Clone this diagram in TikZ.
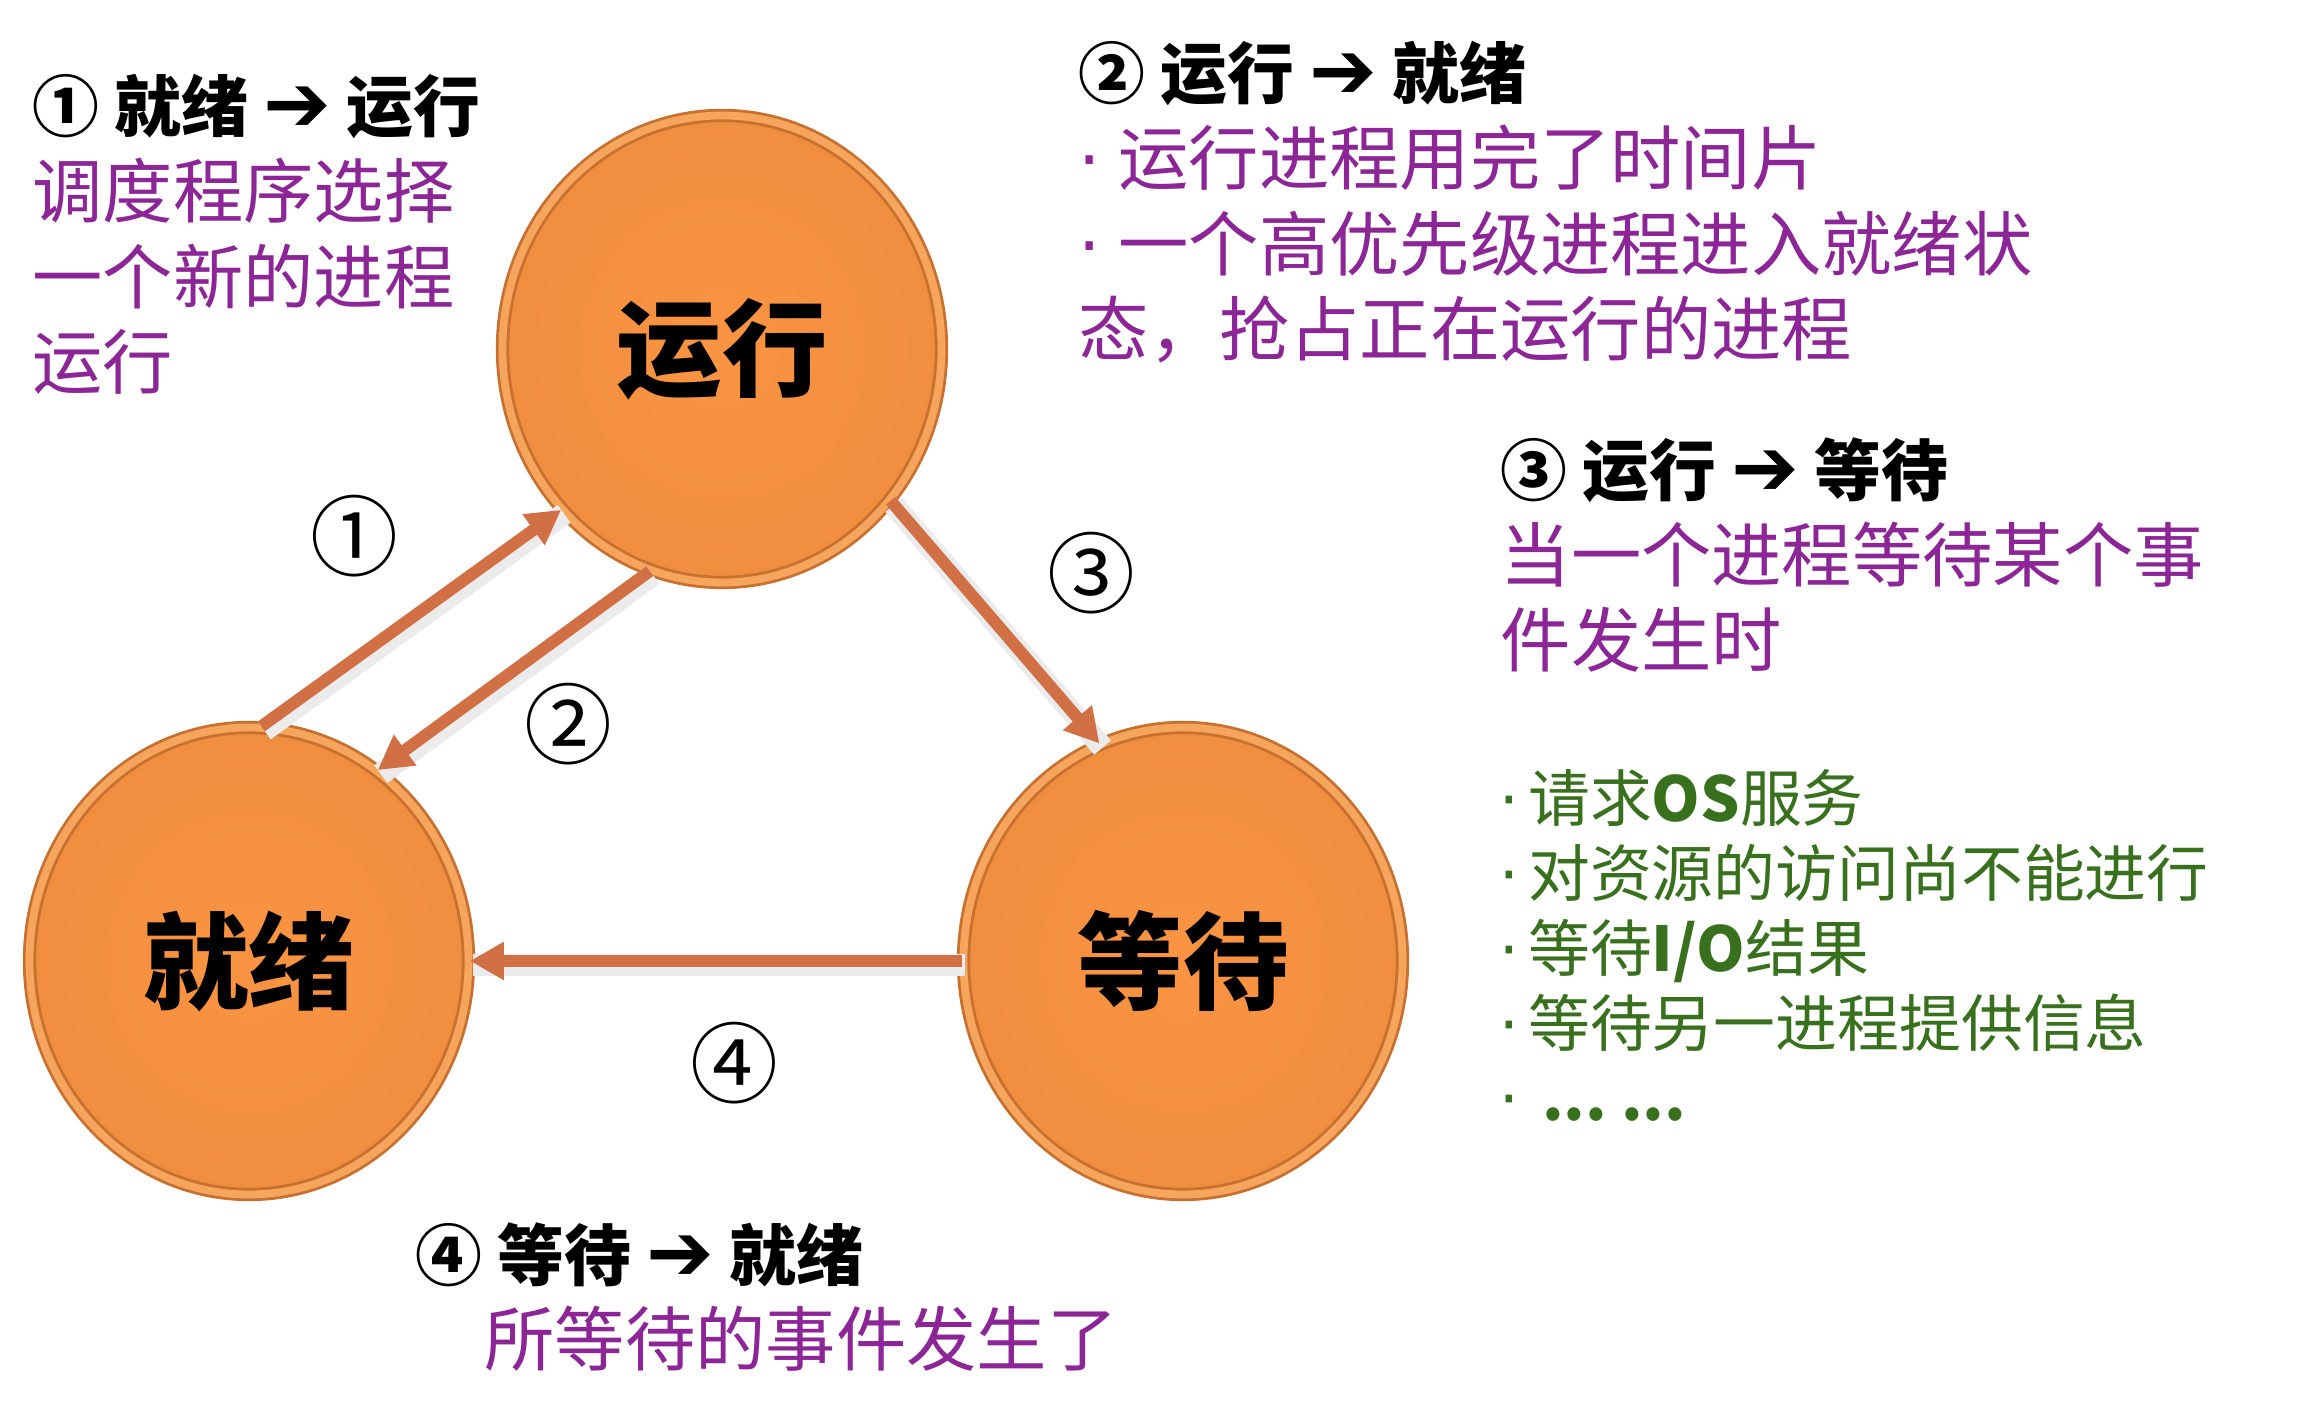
\documentclass[tikz,border=0pt]{standalone}
\usepackage{fontspec}
\usetikzlibrary{shapes.geometric, arrows.meta, positioning}
\newfontfamily\cjk{Noto Sans CJK SC}
\newfontfamily\symfont{DejaVu Sans}
\definecolor{ballfill}{RGB}{250,148,66}
\definecolor{balledge}{RGB}{200,112,48}
\definecolor{ballring}{RGB}{246,166,92}
\definecolor{flowarrow}{RGB}{209,112,69}
\definecolor{notepurple}{RGB}{140,38,150}
\definecolor{notegreen}{RGB}{56,112,30}
\newcommand{\stephead}[3]{{\color{black}\bfseries\fontsize{19pt}{24.45pt}\selectfont #1 #2 {\symfont\fontsize{23pt}{24pt}\selectfont ➔} #3}}
\newcommand{\bul}[1]{{\symfont ·}\kern#1}

\begin{document}
\begin{tikzpicture}[
        state/.style={ellipse, minimum width=4.39cm, minimum height=4.67cm, inner sep=0pt,
            inner color=ballfill, outer color=ballfill!96!black,
            draw=balledge, line width=0.8pt, double=ballring, double distance=2.2pt,
            font=\cjk\bfseries\fontsize{30pt}{36pt}\selectfont},
        flow/.style={-{Triangle[length=0.34cm, width=0.36cm]}, line width=0.12cm, draw=flowarrow,
            preaction={draw=black!8, line width=0.22cm, -, transform canvas={shift={(0.03,-0.04)}}}},
        num/.style={font=\cjk\fontsize{25pt}{28pt}\selectfont, inner sep=0pt},
        note/.style={anchor=base west, align=left, inner sep=0pt, text=notepurple,
            font=\cjk\fontsize{20pt}{24.45pt}\selectfont},
        list/.style={anchor=base west, align=left, inner sep=0pt, text=notegreen,
            font=\cjk\fontsize{17.6pt}{21.3pt}\selectfont}
    ]
        \useasboundingbox (0,0) rectangle (23.02,14.06);

        % the three states
        \node[state] (run) at (7.22,10.57) {运行};
        \node[state] (ready) at (2.49,4.45) {就绪};
        \node[state] (wait) at (11.83,4.45) {等待};

        % transitions
        \draw[flow] (ready.87) -- (run.225);
        \draw[flow] (run.252) -- (ready.56);
        \draw[flow] (run.318) -- (wait.111);
        \draw[flow] (wait.180) -- (ready.0);

        \node[num] (n1) at (3.54,8.70) {①};
        \node[num] (n2) at (5.68,6.82) {②};
        \node[num] (n3) at (10.91,8.33) {③};
        \node[num] (n4) at (7.34,3.43) {④};

        % explanations (anchored at the last line)
        \node[note] (t1) at (0.32,10.17) {\stephead{①}{就绪}{运行}\\调度程序选择\\一个新的进程\\运行};
        \node[note] (t2) at (10.78,10.50) {\stephead{②}{运行}{就绪}\\\bul{5pt}运行进程用完了时间片\\\bul{5pt}一个高优先级进程进入就绪状\\态，抢占正在运行的进程};
        \node[note] (t3) at (15.00,7.39) {\stephead{③}{运行}{等待}\\当一个进程等待某个事\\件发生时};
        \node[note] (t4) at (4.15,0.40) {\stephead{④}{等待}{就绪}\\\hspace*{0.69cm}所等待的事件发生了};
        \node[list] (causes) at (14.99,2.85) {\bul{2.5pt}请求\textbf{OS}服务\\\bul{2.5pt}对资源的访问尚不能进行\\\bul{2.5pt}等待\textbf{I/O}结果\\\bul{2.5pt}等待另一进程提供信息\\\bul{2.5pt}\ \textbf{...\ ...}};
    \end{tikzpicture}
\end{document}
